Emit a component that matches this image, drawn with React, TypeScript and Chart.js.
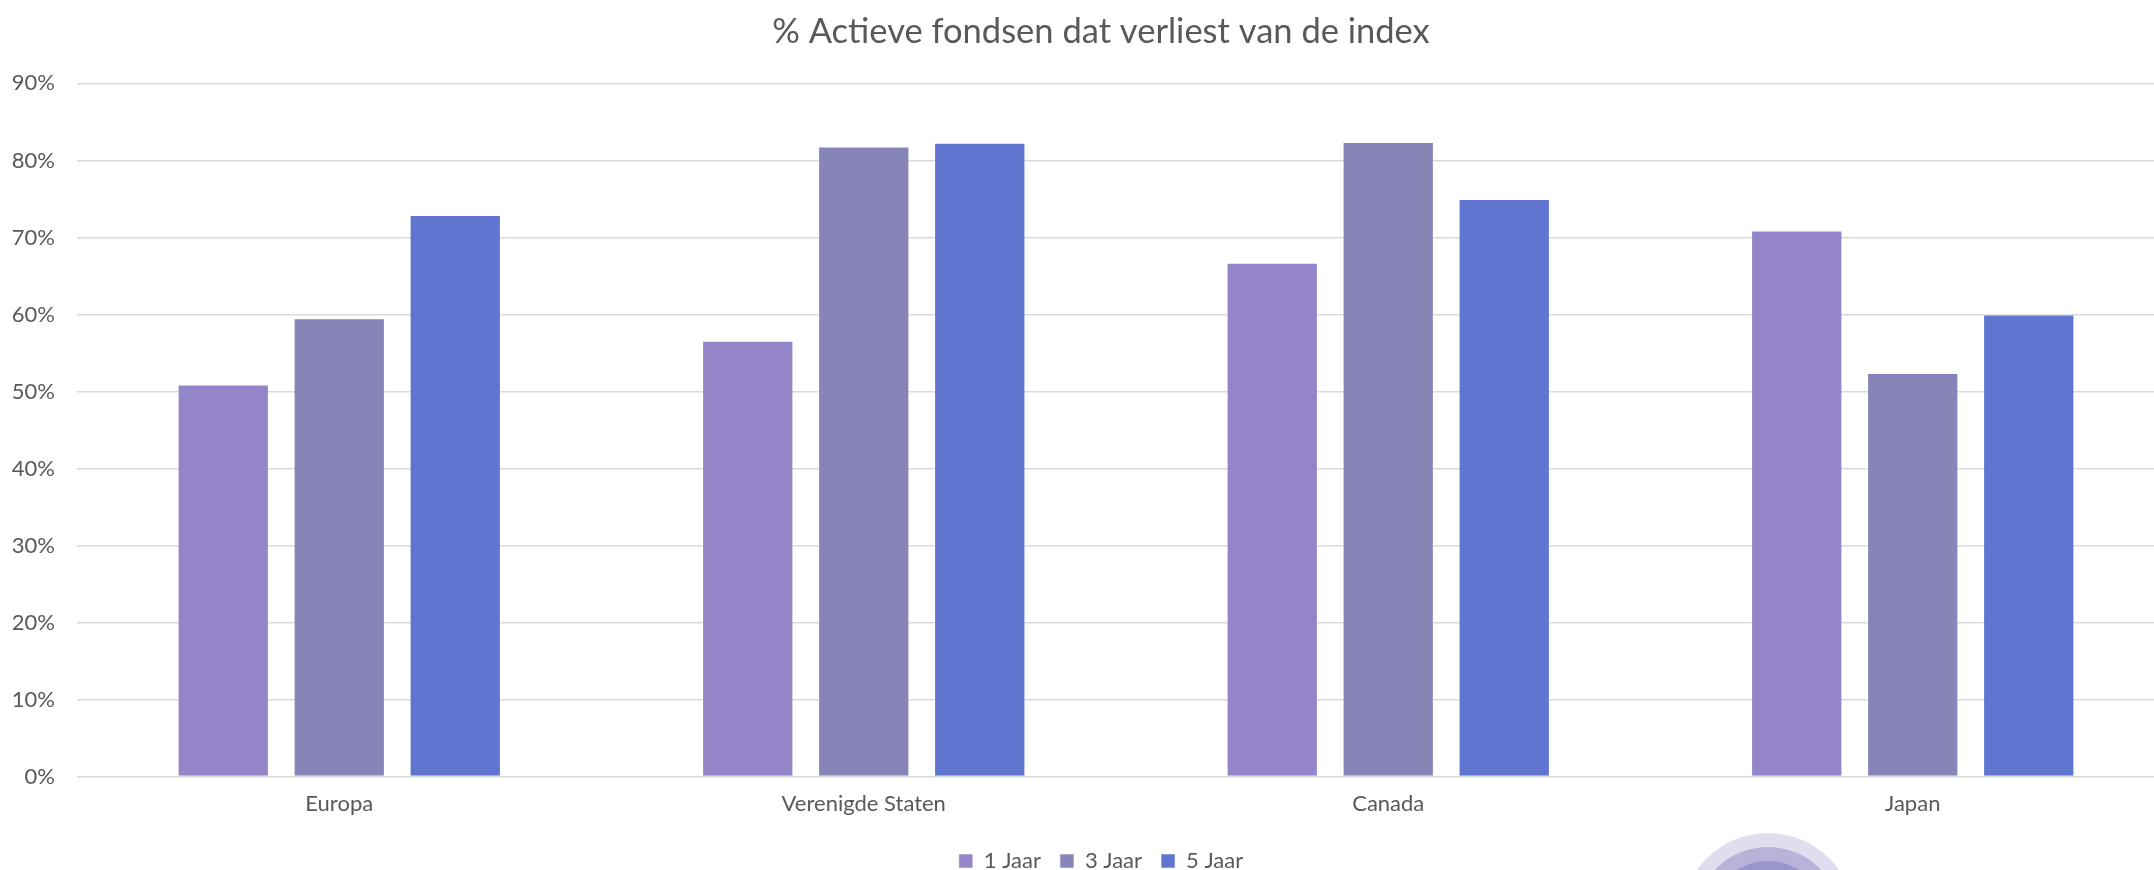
import React, { useEffect, useRef } from "react";
import { Chart, registerables } from "chart.js";

Chart.register(...registerables);

const categories = ["Europa", "Verenigde Staten", "Canada", "Japan"];
const seriesNames = ["1 Jaar", "3 Jaar", "5 Jaar"];
const jaar1 = [50.9, 56.6, 66.7, 70.9];
const jaar3 = [59.5, 81.8, 82.4, 52.4];
const jaar5 = [72.9, 82.3, 75.0, 60.0];
const colors = ["#9484C8", "#8784B8", "#5F75D0"];
const titleText = "% Actieve fondsen dat verliest van de index";

const FONT = "Lato, 'Noto Sans', sans-serif";
const TEXT = "#595959";

export default function App() {
  const ref = useRef<HTMLCanvasElement | null>(null);

  useEffect(() => {
    if (!ref.current) return;
    const values = [jaar1, jaar3, jaar5];
    const chart = new Chart(ref.current, {
      type: "bar",
      data: {
        labels: categories,
        datasets: seriesNames.map((name, i) => ({
          label: name,
          data: values[i],
          backgroundColor: colors[i],
          borderColor: "rgba(255,255,255,0.55)",
          borderWidth: 1,
          categoryPercentage: 0.6635,
          barPercentage: 0.787,
        })),
      },
      options: {
        responsive: false,
        animation: false,
        devicePixelRatio: 1,
        layout: { padding: { left: 27, right: 27, top: 0, bottom: 0 } },
        plugins: {
          title: {
            display: true,
            text: titleText,
            color: TEXT,
            font: { family: FONT, size: 34.5, weight: "normal" },
            padding: { top: 11, bottom: 31 },
          },
          legend: {
            position: "bottom",
            labels: {
              color: TEXT,
              font: { family: FONT, size: 22 },
              boxWidth: 14,
              boxHeight: 14,
              padding: 19,
            },
          },
          tooltip: { enabled: false },
        },
        scales: {
          x: {
            grid: { display: false, drawTicks: false },
            border: { display: false },
            ticks: {
              color: TEXT,
              font: { family: FONT, size: 22 },
              padding: 14,
            },
          },
          y: {
            min: 0,
            max: 90,
            grid: { color: "#D9D9D9", lineWidth: 1.5, drawTicks: false },
            border: { display: false },
            ticks: {
              stepSize: 10,
              color: TEXT,
              font: { family: FONT, size: 22 },
              padding: 22,
              callback: (v: any) => v + "%",
            },
            afterFit: (scale: any) => {
              scale.width = 50;
              scale._computeLabelArea = () => undefined;
            },
          },
        },
      },
    });
    return () => chart.destroy();
  }, []);

  const circle = (r: number, color: string) => (
    <div
      style={{
        position: "absolute",
        left: 1768 - r,
        top: 920 - r,
        width: 2 * r,
        height: 2 * r,
        borderRadius: "50%",
        background: color,
      }}
    />
  );

  return (
    <div
      style={{
        position: "fixed",
        left: 0,
        top: 0,
        width: "100vw",
        height: 870,
        overflow: "hidden",
        background: "#ffffff",
      }}
    >
      <canvas ref={ref} width={2202} height={882} style={{ display: "block" }} />
      {circle(87, "#E0DEEE")}
      {circle(73, "#B7B3D9")}
      {circle(59, "#9A95CA")}
    </div>
  );
}
